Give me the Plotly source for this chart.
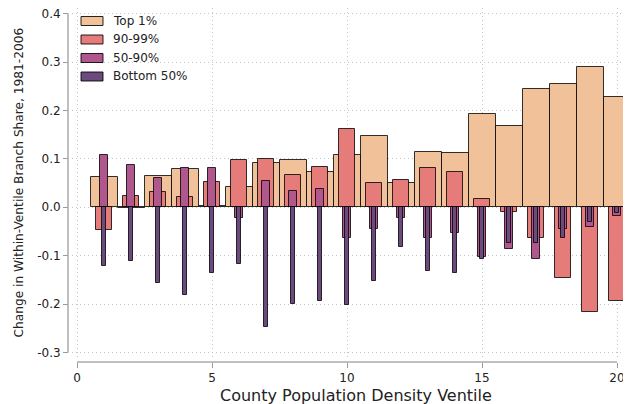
import plotly.graph_objects as go

ventiles = list(range(1, 21))
top1 = [0.062, -0.001, 0.065, 0.078, 0.002, 0.042, 0.092, 0.098, 0.072, 0.107,
        0.147, 0.049, 0.114, 0.112, 0.193, 0.167, 0.244, 0.255, 0.289, 0.228]
p90_99 = [-0.048, 0.024, 0.032, 0.022, 0.053, 0.097, 0.099, 0.067, 0.083, 0.161,
          0.051, 0.056, 0.081, 0.073, 0.017, -0.009, -0.063, -0.146, -0.217, -0.194]
p50_90 = [0.108, 0.088, 0.061, 0.081, 0.081, -0.023, 0.055, 0.034, 0.038, -0.064,
          -0.046, -0.022, -0.063, -0.053, -0.103, -0.086, -0.108, -0.046, -0.040, -0.019]
bottom50 = [-0.121, -0.112, -0.157, -0.182, -0.136, -0.117, -0.248, -0.199, -0.193, -0.203,
            -0.152, -0.083, -0.132, -0.135, -0.108, -0.073, -0.073, -0.063, -0.031, -0.011]

series_names = ["Top 1%", "90-99%", "50-90%", "Bottom 50%"]
series_values = [top1, p90_99, p50_90, bottom50]
colors = ["#f1c19a", "#e67c7a", "#b0578e", "#6c4a7d"]
widths = [1.0, 0.6, 0.3, 0.15]

xtick_vals = [0, 5, 10, 15, 20]
xtick_text = ["0", "5", "10", "15", "20"]
ytick_vals = [-0.3, -0.2, -0.1, 0.0, 0.1, 0.2, 0.3, 0.4]
ytick_text = ["-0.3", "-0.2", "-0.1", "0.0", "0.1", "0.2", "0.3", "0.4"]

# the page body adds an 8px offset; size the figure so it fills the window
OFF = 8
W, H = 631 - OFF, 404 - OFF
ML, MR, MT, MB = 68 - OFF, 6, 0, 42
PW, PH = W - ML - MR, H - MT - MB

def px(xp):  # window pixel -> paper x
    return (xp - OFF - ML) / PW

def py(yp):  # window pixel -> paper y
    return (H - MB - (yp - OFF)) / PH

# data scale (window pixels): x=0 at 77, 27 px/unit; y=0 at 207.2, 484 px/unit
x_lo = (72 - 77) / 27
x_hi = (625 - 77) / 27
y_hi = (207.2 - (MT + OFF)) / 484
y_lo = -(358 - 207.2) / 484

fig = go.Figure()
for name, vals, col, w in zip(series_names, series_values, colors, widths):
    fig.add_trace(go.Bar(
        x=ventiles, y=vals, name=name, width=w,
        marker=dict(color=col, line=dict(color="rgba(0,0,0,0.8)", width=1)),
        showlegend=False,
    ))

FONT = "DejaVu Sans"
grid = dict(showgrid=True, gridcolor="#c4c4c4", griddash="1px,3px", gridwidth=1,
            zeroline=False, showline=False, ticks="outside", ticklen=5,
            tickwidth=1.2, tickcolor="#999999", automargin=False,
            ticklabeloverflow="allow",
            tickfont=dict(family=FONT, size=12, color="#222222"))

fig.update_layout(
    width=W, height=H,
    margin=dict(l=ML, r=MR, t=MT, b=MB, autoexpand=False),
    paper_bgcolor="white", plot_bgcolor="white",
    barmode="overlay", bargap=0,
    font=dict(family=FONT, size=12, color="#222222"),
    xaxis=dict(range=[x_lo, x_hi], domain=[4 / PW, 1], anchor="free", position=0,
               tickmode="array", tickvals=xtick_vals, ticktext=xtick_text, **grid),
    yaxis=dict(range=[y_lo, y_hi], domain=[4 / PH, 1], anchor="free", position=0,
               tickmode="array", tickvals=ytick_vals, ticktext=ytick_text, **grid),
)

# offset spines
fig.add_shape(type="line", xref="paper", yref="y", x0=0, x1=0, y0=-0.3, y1=0.4,
              line=dict(color="#aaaaaa", width=1.5))
fig.add_shape(type="line", xref="x", yref="paper", x0=0, x1=20, y0=0, y1=0,
              line=dict(color="#aaaaaa", width=1.5))

# axis titles
fig.add_annotation(text="County Population Density Ventile", xref="paper", yref="paper",
                   x=px(356), y=py(395), showarrow=False, xanchor="center", yanchor="middle",
                   font=dict(family=FONT, size=16, color="#222222"))
fig.add_annotation(text="Change in Within-Ventile Branch Share, 1981-2006", xref="paper", yref="paper",
                   x=px(18.5), y=py(183), showarrow=False, textangle=-90, xanchor="center", yanchor="middle",
                   font=dict(family=FONT, size=12.2, color="#222222"))

# legend
row_y = [21, 39.5, 58, 76.5]
for name, col, yc in zip(series_names, colors, row_y):
    fig.add_shape(type="rect", xref="paper", yref="paper",
                  x0=px(81), x1=px(103), y0=py(yc + 4.5), y1=py(yc - 4.5),
                  fillcolor=col, line=dict(color="rgba(0,0,0,0.85)", width=1))
    fig.add_annotation(text=name, xref="paper", yref="paper", x=px(111), y=py(yc),
                       showarrow=False, xanchor="left", yanchor="middle",
                       font=dict(family=FONT, size=12, color="#222222"))

fig.write_html("out.html")
